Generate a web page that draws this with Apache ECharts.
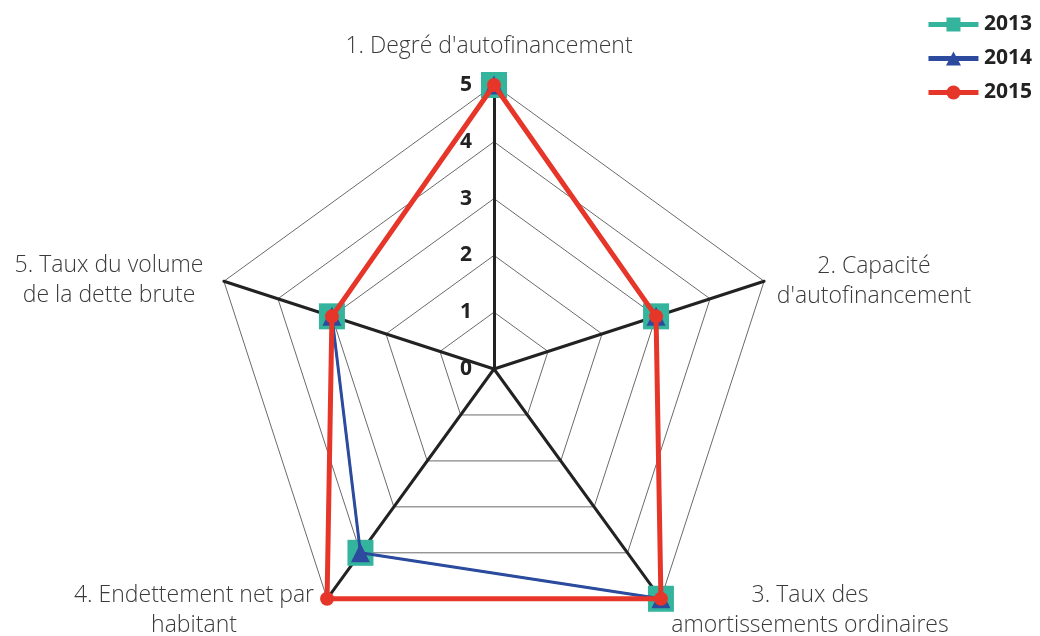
<!DOCTYPE html>
<html>
<head>
<meta charset="utf-8">
<script src="https://cdn.jsdelivr.net/npm/echarts@6/dist/echarts.min.js"></script>
<style>
  html, body { margin: 0; padding: 0; background: #fff; }
  #chart { width: 1040px; height: 636px; }
</style>
</head>
<body>
<div id="chart"></div>
<script>
// indicateurs (axes du radar), dans le sens des aiguilles d'une montre
var indicators = [
  "1. Degré d'autofinancement",
  "2. Capacité\nd'autofinancement",
  "3. Taux des\namortissements ordinaires",
  "4. Endettement net par\nhabitant",
  "5. Taux du volume\nde la dette brute"
];
var years = ["2013", "2014", "2015"];
var values2013 = [5, 3, 5, 4, 3];
var values2014 = [5, 3, 5, 4, 3];
var values2015 = [5, 3, 5, 5, 3];
var tickLabels = ["0", "1", "2", "3", "4", "5"];

// position des libellés (mise en page seulement)
var namePos = [[489, 46], [874, 281], [810, 610], [194, 610], [109, 280]];

// echarts tourne dans le sens inverse -> on réordonne les axes
var order = [0, 4, 3, 2, 1];
function reorder(arr) { return order.map(function (k) { return arr[k]; }); }

// icônes de légende : trait + marqueur (50 x 14)
var legendIcons = [
  "path://M0,4.5L50,4.5L50,9.5L0,9.5Z M18,0L32,0L32,14L18,14Z",
  "path://M0,4.5L50,4.5L50,9.5L0,9.5Z M25,0L32.5,14L17.5,14Z",
  "path://M0,4.5L50,4.5L50,9.5L0,9.5Z M18,7A7,7 0 1,1 32,7A7,7 0 1,1 18,7Z"
];

var cx = 494, cy = 369, R = 284;

var myChart = echarts.init(document.getElementById("chart"));

var opt = {
  animation: false,
  color: ["#35B49D", "#2C4B9E", "#E6362A"],
  legend: {
    data: years.map(function (y, i) { return { name: y, icon: legendIcons[i] }; }),
    orient: "vertical",
    right: 3,
    top: 9,
    itemWidth: 51,
    itemHeight: 14,
    itemGap: 13,
    textStyle: {
      fontFamily: "Open Sans",
      fontWeight: "bold",
      fontSize: 21,
      lineHeight: 14,
      color: "#222"
    }
  },
  grid: { left: cx, top: cy - R, height: R, width: 1 },
  xAxis: { type: "value", show: false },
  yAxis: {
    type: "category",
    data: tickLabels,
    boundaryGap: false,
    axisLine: { show: false },
    axisTick: { show: false },
    splitLine: { show: false },
    axisLabel: {
      margin: 22,
      fontFamily: "Open Sans",
      fontWeight: "bold",
      fontSize: 21,
      color: "#222"
    }
  },
  radar: {
    center: [cx, cy],
    radius: R,
    startAngle: 90,
    splitNumber: 5,
    shape: "polygon",
    indicator: reorder(indicators).map(function (n) { return { name: n, min: 0, max: 5 }; }),
    axisName: { show: false },
    axisLine: { lineStyle: { color: "#222", width: 3 } },
    splitLine: { lineStyle: { color: "#6a6a6a", width: 1 } },
    splitArea: { show: false }
  },
  graphic: indicators.map(function (n, i) {
    return {
      type: "text",
      x: namePos[i][0],
      y: namePos[i][1],
      style: {
        text: n,
        textAlign: "center",
        textVerticalAlign: "middle",
        fontFamily: "Open Sans",
        fontWeight: 300,
        fontSize: 23,
        lineHeight: 30,
        fill: "#3a3a3a"
      }
    };
  }),
  series: [
    {
      name: years[0],
      type: "radar",
      z: 2,
      symbol: "rect",
      symbolSize: 26,
      lineStyle: { width: 2 },
      data: [{ value: reorder(values2013), name: years[0] }]
    },
    {
      name: years[1],
      type: "radar",
      z: 3,
      symbol: "triangle",
      symbolSize: 19,
      lineStyle: { width: 3 },
      data: [{ value: reorder(values2014), name: years[1] }]
    },
    {
      name: years[2],
      type: "radar",
      z: 4,
      symbol: "circle",
      symbolSize: 14,
      lineStyle: { width: 5 },
      data: [{ value: reorder(values2015), name: years[2] }]
    }
  ]
};

myChart.setOption(opt);
</script>
</body>
</html>
